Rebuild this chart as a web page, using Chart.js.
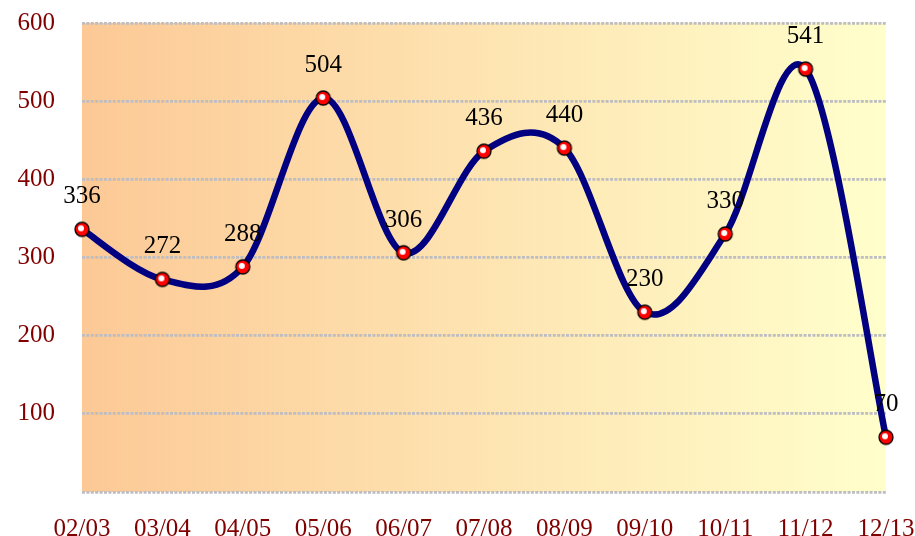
<!DOCTYPE html>
<html>
<head>
<meta charset="utf-8">
<script src="https://cdn.jsdelivr.net/npm/chart.js@4"></script>
<style>
  html, body { margin: 0; padding: 0; background: #fff; }
  #wrap { width: 915px; height: 536px; }
</style>
</head>
<body>
<div id="wrap"><canvas id="grafico" width="915" height="536"></canvas></div>
<script>
const periodos = ['02/03', '03/04', '04/05', '05/06', '06/07', '07/08', '08/09', '09/10', '10/11', '11/12', '12/13'];
const valores = [336, 272, 288, 504, 306, 436, 440, 230, 330, 541, 70];
const ticksY = [100, 200, 300, 400, 500, 600];

const fuente = '"Liberation Serif", "Times New Roman", serif';

// punto rojo con brillo blanco
function hacerPunto() {
    const c = document.createElement('canvas');
    c.width = 18; c.height = 18;
    const g = c.getContext('2d');
    g.beginPath();
    g.arc(9, 9, 7, 0, Math.PI * 2);
    g.fillStyle = '#ff0000';
    g.fill();
    g.lineWidth = 1.3;
    g.strokeStyle = '#000';
    g.stroke();
    g.beginPath();
    g.arc(8, 8, 3, 0, Math.PI * 2);
    g.fillStyle = '#fff';
    g.fill();
    return c;
}

const fondo = {
    id: 'fondo',
    beforeDraw(chart) {
        const a = chart.chartArea, ctx = chart.ctx;
        const grad = ctx.createLinearGradient(a.left, 0, a.right, 0);
        grad.addColorStop(0, '#fcc996');
        grad.addColorStop(1, '#ffffcc');
        ctx.save();
        ctx.fillStyle = grad;
        ctx.fillRect(a.left, a.top, a.right - a.left, a.bottom - a.top);
        ctx.restore();
    }
};

// curva suavizada (Catmull-Rom) sobre las posiciones calculadas por Chart.js
const curva = {
    id: 'curva',
    beforeDatasetsDraw(chart) {
        const ctx = chart.ctx;
        const pts = chart.getDatasetMeta(0).data.map(p => ({ x: p.x, y: p.y }));
        ctx.save();
        ctx.beginPath();
        ctx.moveTo(pts[0].x, pts[0].y);
        for (let i = 0; i < pts.length - 1; i++) {
            const p0 = pts[i - 1] || pts[i];
            const p1 = pts[i];
            const p2 = pts[i + 1];
            const p3 = pts[i + 2] || p2;
            ctx.bezierCurveTo(
                p1.x + (p2.x - p0.x) / 6, p1.y + (p2.y - p0.y) / 6,
                p2.x - (p3.x - p1.x) / 6, p2.y - (p3.y - p1.y) / 6,
                p2.x, p2.y
            );
        }
        ctx.lineWidth = 6.5;
        ctx.strokeStyle = '#000080';
        ctx.lineJoin = 'round';
        ctx.lineCap = 'round';
        ctx.stroke();
        ctx.restore();
    }
};

const etiquetas = {
    id: 'etiquetas',
    afterDatasetsDraw(chart) {
        const ctx = chart.ctx;
        const meta = chart.getDatasetMeta(0);
        ctx.save();
        ctx.font = '25px ' + fuente;
        ctx.fillStyle = '#000';
        ctx.textAlign = 'center';
        ctx.textBaseline = 'alphabetic';
        meta.data.forEach((p, i) => {
            ctx.fillText(String(valores[i]), p.x, p.y - 26);
        });
        ctx.restore();
    }
};

const ctx = document.getElementById('grafico').getContext('2d');
new Chart(ctx, {
    type: 'line',
    data: {
        labels: periodos,
        datasets: [{
            data: valores,
            showLine: false,
            pointStyle: hacerPunto(),
            clip: false
        }]
    },
    options: {
        responsive: false,
        animation: false,
        layout: { autoPadding: false, padding: { top: 23, right: 29, left: 18, bottom: 0 } },
        plugins: { legend: { display: false }, tooltip: { enabled: false } },
        scales: {
            x: {
                offset: false,
                grid: { display: false },
                border: { display: false },
                afterFit(axis) {
                    axis.height = 44;
                    axis.paddingLeft = 0;
                    axis.paddingRight = 0;
                },
                ticks: {
                    color: '#800000',
                    padding: 14,
                    maxRotation: 0,
                    autoSkip: false,
                    font: { family: fuente, size: 25 }
                }
            },
            y: {
                min: 0,
                max: 600,
                afterBuildTicks(axis) {
                    axis.ticks = [0].concat(ticksY).map(v => ({ value: v }));
                },
                afterFit(axis) {
                    axis.width = 64;
                    axis.paddingTop = 0;
                    axis.paddingBottom = 0;
                },
                grid: {
                    color: '#bdbdc2',
                    lineWidth: 2.7,
                    drawTicks: false
                },
                border: { display: false, dash: [3, 1.4] },
                ticks: {
                    color: '#800000',
                    padding: 27,
                    callback: v => v === 0 ? '' : v,
                    font: { family: fuente, size: 25 }
                }
            }
        }
    },
    plugins: [fondo, curva, etiquetas]
});
</script>
</body>
</html>
